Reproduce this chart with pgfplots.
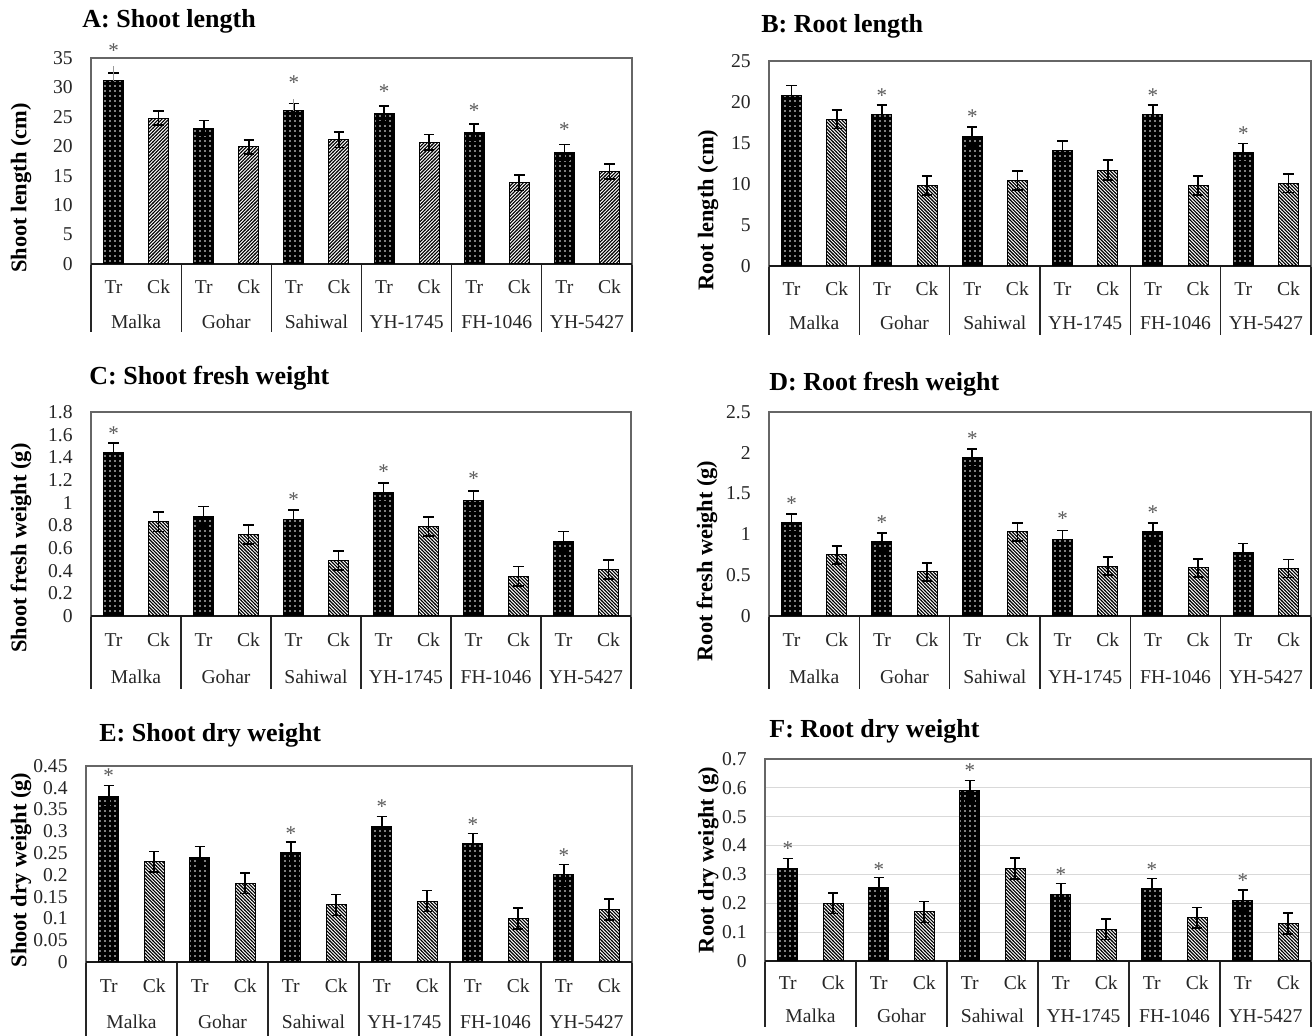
\documentclass[border=0pt]{standalone}
\usepackage{fontspec}
\setmainfont{Liberation Serif}
\usepackage{pgfplots}
\pgfplotsset{compat=1.18}
\usetikzlibrary{patterns}

\pgfdeclarepatternformonly{wdots}{\pgfqpoint{-0.6pt}{-0.6pt}}{\pgfqpoint{0.6pt}{0.6pt}}{\pgfqpoint{2.5pt}{2.5pt}}{%
  \pgfpathcircle{\pgfqpoint{0pt}{0pt}}{0.42pt}%
  \pgfusepath{fill}%
}
\pgfdeclarepatternformonly{hne}{\pgfqpoint{-0.5pt}{-0.5pt}}{\pgfqpoint{2.2pt}{2.2pt}}{\pgfqpoint{1.7pt}{1.7pt}}{%
  \pgfsetlinewidth{0.55pt}%
  \pgfpathmoveto{\pgfqpoint{-0.1pt}{-0.1pt}}%
  \pgfpathlineto{\pgfqpoint{1.8pt}{1.8pt}}%
  \pgfusepath{stroke}%
}
\pgfdeclarepatternformonly{hnw}{\pgfqpoint{-0.5pt}{-0.5pt}}{\pgfqpoint{2.2pt}{2.2pt}}{\pgfqpoint{1.7pt}{1.7pt}}{%
  \pgfsetlinewidth{0.55pt}%
  \pgfpathmoveto{\pgfqpoint{-0.1pt}{1.8pt}}%
  \pgfpathlineto{\pgfqpoint{1.8pt}{-0.1pt}}%
  \pgfusepath{stroke}%
}

\pgfplotsset{
  panel/.style={
    scale only axis,
    clip=false,
    xmin=-0.5, xmax=11.5,
    ymin=0,
    axis line style={black!60, line width=0.6pt},
    xtick={0,1,2,3,4,5,6,7,8,9,10,11},
    xticklabels={Tr,Ck,Tr,Ck,Tr,Ck,Tr,Ck,Tr,Ck,Tr,Ck},
    extra x ticks={0.5,2.5,4.5,6.5,8.5,10.5},
    extra x tick labels={Malka,Gohar,Sahiwal,YH-1745,FH-1046,YH-5427},
    minor xtick={-0.5,1.5,3.5,5.5,7.5,9.5,11.5},
    xtick pos=left,
    ytick pos=left,
    tick align=outside,
    major tick length=0pt,
    major x tick style={draw=none},
    minor x tick style={black!85, line width=0.6pt},
    ytick style={draw=none},
    extra y ticks={0},
    extra y tick labels={},
    extra y tick style={grid=major, major grid style={black!90, line width=0.6pt}},
    tick label style={font=\fontsize{9.8}{11}\selectfont, text=black!85},
    yticklabel style={anchor=east, inner sep=0pt, xshift=-9pt},
    xticklabel style={anchor=center, inner sep=0pt},
    ylabel style={font=\bfseries\fontsize{11.2}{13}\selectfont, anchor=center},
    title style={font=\bfseries\fontsize{13}{15}\selectfont, anchor=west, inner sep=0pt},
  },
  trbar/.style={ybar, bar width=10pt, bar shift=0pt, draw=black, line width=0.5pt,
    fill=black, postaction={pattern=wdots, pattern color=white},
    error bars/.cd, y dir=both, y explicit,
    error bar style={black, line width=0.8pt},
    error mark options={rotate=90, black, line width=0.8pt, mark size=2.6pt}},
  ckbar/.style={ybar, bar width=10pt, bar shift=0pt, draw=black, line width=0.5pt,
    fill=white, postaction={pattern=#1, pattern color=black},
    error bars/.cd, y dir=both, y explicit,
    error bar style={black, line width=0.8pt},
    error mark options={rotate=90, black, line width=0.8pt, mark size=2.6pt}},
  stars/.style={draw=none, mark=none, nodes near coords={*},
    every node near coord/.append style={anchor=center, yshift=-1.7pt,
      font=\fontsize{10.5}{12}\selectfont, text=black!65, inner sep=0pt}},
}

\begin{document}
\begin{tikzpicture}
\path[use as bounding box] (0,0) rectangle (657.5pt,518pt);

% ---------------- A ----------------
\begin{axis}[panel,
  at={(45.5pt,386pt)}, anchor=south west, width=270.5pt, height=103pt,
  ymax=35, ytick={0,5,10,15,20,25,30,35},
  yticklabels={0,5,10,15,20,25,30,35},
  minor tick length=34pt,
  xticklabel style={yshift=-11.5pt},
  extra x tick style={grid=none, xticklabel style={yshift=-17.5pt}},
  ylabel={Shoot length (cm)},
  ylabel style={at={(axis description cs:-0.1294,0.369)}},
  title={A: Shoot length},
  title style={at={(axis description cs:-0.0166,1.121)}},
]
\addplot[trbar] coordinates {(0,31.1)+-(0,1.3) (2,23.1)+-(0,1.3) (4,26.0)+-(0,1.3) (6,25.5)+-(0,1.3) (8,22.4)+-(0,1.4) (10,19.0)+-(0,1.3)};
\addplot[ckbar=hne] coordinates {(1,24.8)+-(0,1.2) (3,19.9)+-(0,1.2) (5,21.1)+-(0,1.3) (7,20.7)+-(0,1.3) (9,13.8)+-(0,1.3) (11,15.7)+-(0,1.3)};
\addplot[draw=none, mark=none, error bars/.cd, y dir=plus, y explicit, error mark=none,
  error bar style={black!40, line width=0.6pt}] coordinates {(0,31.1)+-(0,2.5) (4,26.0)+-(0,2.0)};
\addplot[stars] coordinates {(0,36.9) (4,31.4) (6,29.9) (8,26.7) (10,23.4)};
\end{axis}

% ---------------- B ----------------
\begin{axis}[panel,
  at={(384.5pt,385pt)}, anchor=south west, width=271pt, height=102.5pt,
  ymax=25, ytick={0,5,10,15,20,25},
  yticklabels={0,5,10,15,20,25},
  minor tick length=34.5pt,
  xticklabel style={yshift=-11.5pt},
  extra x tick style={grid=none, xticklabel style={yshift=-17pt}},
  ylabel={Root length (cm)},
  ylabel style={at={(axis description cs:-0.1125,0.273)}},
  title={B: Root length},
  title style={at={(axis description cs:-0.0148,1.112)}},
]
\addplot[trbar] coordinates {(0,20.8)+-(0,1.2) (2,18.5)+-(0,1.15) (4,15.8)+-(0,1.15) (6,14.1)+-(0,1.15) (8,18.5)+-(0,1.15) (10,13.8)+-(0,1.15)};
\addplot[ckbar=hnw] coordinates {(1,17.9)+-(0,1.15) (3,9.8)+-(0,1.15) (5,10.4)+-(0,1.15) (7,11.7)+-(0,1.2) (9,9.8)+-(0,1.15) (11,10.1)+-(0,1.15)};
\addplot[stars] coordinates {(2,21.2) (4,18.6) (8,21.2) (10,16.5)};
\end{axis}

% ---------------- C ----------------
\begin{axis}[panel,
  at={(45.5pt,210pt)}, anchor=south west, width=270pt, height=102pt,
  ymax=1.8, ytick={0,0.2,0.4,0.6,0.8,1,1.2,1.4,1.6,1.8},
  yticklabels={0,0.2,0.4,0.6,0.8,1,1.2,1.4,1.6,1.8},
  minor tick length=36.5pt,
  xticklabel style={yshift=-12pt},
  extra x tick style={grid=none, xticklabel style={yshift=-18.5pt}},
  ylabel={Shoot fresh weight (g)},
  ylabel style={at={(axis description cs:-0.1296,0.333)}},
  title={C: Shoot fresh weight},
  title style={at={(axis description cs:-0.0037,1.1075)}},
]
\addplot[trbar] coordinates {(0,1.44)+-(0,0.085) (2,0.88)+-(0,0.085) (4,0.85)+-(0,0.085) (6,1.09)+-(0,0.085) (8,1.02)+-(0,0.085) (10,0.66)+-(0,0.085)};
\addplot[ckbar=hnw] coordinates {(1,0.83)+-(0,0.085) (3,0.72)+-(0,0.085) (5,0.49)+-(0,0.085) (7,0.79)+-(0,0.085) (9,0.35)+-(0,0.085) (11,0.41)+-(0,0.085)};
\addplot[stars] coordinates {(0,1.64) (4,1.06) (6,1.30) (8,1.24)};
\end{axis}

% ---------------- D ----------------
\begin{axis}[panel,
  at={(384.5pt,210pt)}, anchor=south west, width=271pt, height=102pt,
  ymax=2.5, ytick={0,0.5,1,1.5,2,2.5},
  yticklabels={0,0.5,1,1.5,2,2.5},
  minor tick length=36.5pt,
  xticklabel style={yshift=-12pt},
  extra x tick style={grid=none, xticklabel style={yshift=-18.5pt}},
  ylabel={Root fresh weight (g)},
  ylabel style={at={(axis description cs:-0.1144,0.27)}},
  title={D: Root fresh weight},
  title style={at={(axis description cs:0,1.0785)}},
]
\addplot[trbar] coordinates {(0,1.14)+-(0,0.11) (2,0.91)+-(0,0.11) (4,1.94)+-(0,0.11) (6,0.94)+-(0,0.11) (8,1.03)+-(0,0.11) (10,0.78)+-(0,0.11)};
\addplot[ckbar=hnw] coordinates {(1,0.75)+-(0,0.11) (3,0.54)+-(0,0.11) (5,1.03)+-(0,0.11) (7,0.61)+-(0,0.11) (9,0.59)+-(0,0.11) (11,0.58)+-(0,0.11)};
\addplot[stars] coordinates {(0,1.42) (2,1.19) (4,2.21) (6,1.23) (8,1.31)};
\end{axis}

% ---------------- E ----------------
\begin{axis}[panel,
  at={(43pt,37pt)}, anchor=south west, width=273pt, height=98pt,
  ymax=0.45, ytick={0,0.05,0.1,0.15,0.2,0.25,0.3,0.35,0.4,0.45},
  yticklabels={0,0.05,0.1,0.15,0.2,0.25,0.3,0.35,0.4,0.45},
  minor tick length=37pt,
  xticklabel style={yshift=-12pt},
  extra x tick style={grid=none, xticklabel style={yshift=-18pt}},
  ylabel={Shoot dry weight (g)},
  ylabel style={at={(axis description cs:-0.119,0.469)}},
  title={E: Shoot dry weight},
  title style={at={(axis description cs:0.0238,1.0965)}},
]
\addplot[trbar] coordinates {(0,0.381)+-(0,0.024) (2,0.241)+-(0,0.024) (4,0.252)+-(0,0.024) (6,0.31)+-(0,0.024) (8,0.271)+-(0,0.024) (10,0.20)+-(0,0.024)};
\addplot[ckbar=hnw] coordinates {(1,0.23)+-(0,0.024) (3,0.181)+-(0,0.024) (5,0.131)+-(0,0.024) (7,0.14)+-(0,0.024) (9,0.10)+-(0,0.024) (11,0.12)+-(0,0.024)};
\addplot[stars] coordinates {(0,0.436) (4,0.303) (6,0.365) (8,0.324) (10,0.253)};
\end{axis}

% ---------------- F ----------------
\begin{axis}[panel,
  at={(382.5pt,37.5pt)}, anchor=south west, width=273pt, height=101pt,
  ymax=0.7, ytick={0,0.1,0.2,0.3,0.4,0.5,0.6,0.7},
  yticklabels={0,0.1,0.2,0.3,0.4,0.5,0.6,0.7},
  ymajorgrids, major grid style={black!15, line width=0.5pt},
  minor tick length=33pt,
  xticklabel style={yshift=-11pt},
  extra x tick style={grid=none, xticklabel style={yshift=-16.5pt}},
  ylabel={Root dry weight (g)},
  ylabel style={at={(axis description cs:-0.104,0.5)}},
  title={F: Root dry weight},
  title style={at={(axis description cs:0.0073,1.079)}},
]
\addplot[trbar] coordinates {(0,0.319)+-(0,0.036) (2,0.253)+-(0,0.036) (4,0.59)+-(0,0.036) (6,0.232)+-(0,0.036) (8,0.25)+-(0,0.036) (10,0.21)+-(0,0.036)};
\addplot[ckbar=hnw] coordinates {(1,0.20)+-(0,0.036) (3,0.17)+-(0,0.036) (5,0.32)+-(0,0.036) (7,0.11)+-(0,0.036) (9,0.15)+-(0,0.036) (11,0.13)+-(0,0.036)};
\addplot[stars] coordinates {(0,0.40) (2,0.33) (4,0.67) (6,0.31) (8,0.33) (10,0.29)};
\end{axis}
\end{tikzpicture}
\end{document}
